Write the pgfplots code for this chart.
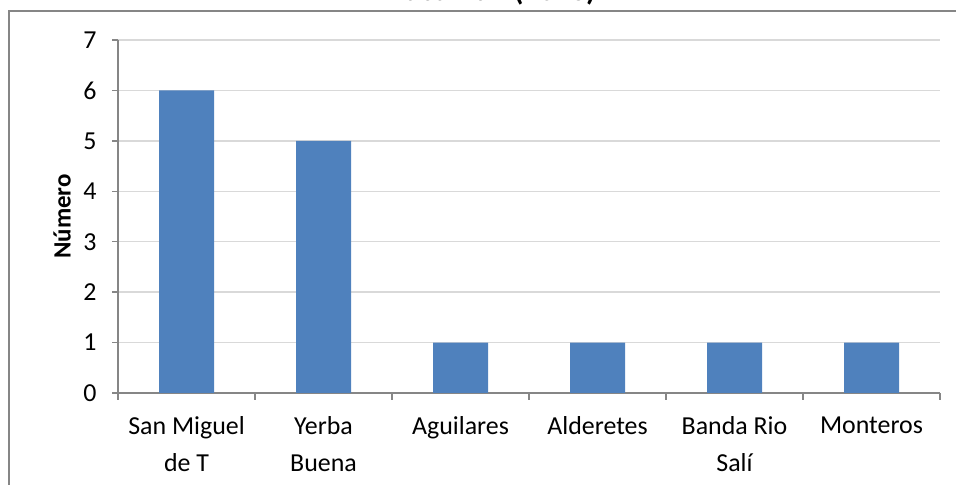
\documentclass[border=0pt]{standalone}
\usepackage{fontspec}
\setmainfont{Carlito}
\usepackage{pgfplots}
\pgfplotsset{compat=1.18}
\definecolor{barblue}{HTML}{4F81BD}
\definecolor{gridgray}{HTML}{D9D9D9}
\definecolor{axisgray}{HTML}{868686}

\begin{document}
\begin{tikzpicture}[x=1bp,y=1bp]
\path[use as bounding box] (0,0) rectangle (956,485);
% chart area frame (only its top and left edges are in view)
\draw[axisgray, line width=1.3bp] (9,-5) -- (9,474) -- (970,474);
% title, mostly cut off at the top
\node[font=\fontsize{31}{37}\selectfont\bfseries, anchor=base, inner sep=0] at (493,484.5) {Tucumán (2013)};
\begin{axis}[
    at={(118bp,92bp)}, anchor=south west,
    width=822bp, height=353bp, scale only axis,
    xmin=-0.5, xmax=5.5, ymin=0, ymax=7,
    axis x line*=bottom, axis y line*=left,
    axis line style={-, draw=axisgray, line width=1.3bp},
    ytick={0,...,7},
    xtick={0,...,5},
    xticklabels={San Miguel\\de T, Yerba\\Buena, Aguilares, Alderetes, Banda Rio\\Salí, Monteros},
    minor xtick={-0.5,0.5,...,5.5},
    tick align=outside,
    major x tick style={draw=none},
    major tick length=6bp, minor tick length=7bp,
    every tick/.style={axisgray, line width=1.3bp},
    minor tick style={axisgray, line width=1.3bp},
    ymajorgrids,
    major grid style={gridgray, line width=1.3bp},
    /pgf/number format/assume math mode=true,
    ticklabel style={font=\fontsize{26}{37}\selectfont},
    xticklabel style={align=center, yshift=-14bp},
    yticklabel style={xshift=-12bp},
    ylabel={Número},
    every axis y label/.style={at={(axis description cs:-0.068,0.5)}, rotate=90, anchor=center,
        font=\fontsize{25}{30}\selectfont\bfseries},
]
\addplot[ybar, fill=barblue, draw=none, bar width=55bp]
    coordinates {(0,6) (1,5) (2,1) (3,1) (4,1) (5,1)};
\end{axis}
\end{tikzpicture}
\end{document}
